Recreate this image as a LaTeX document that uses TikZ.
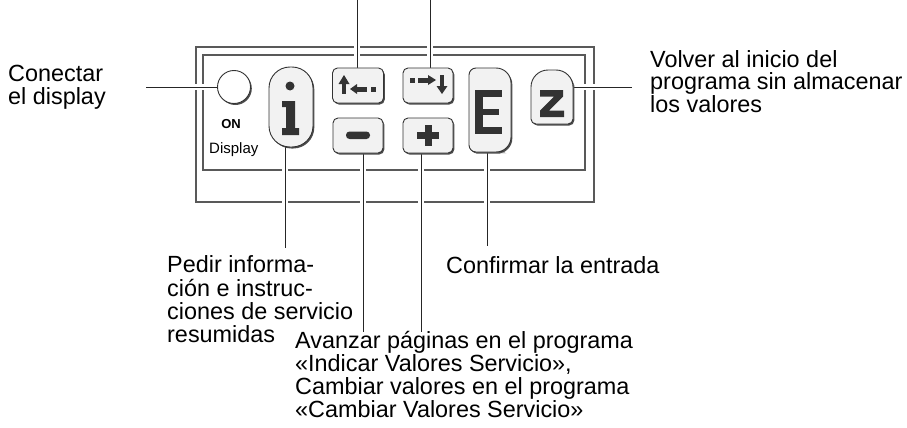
\documentclass[tikz,border=0pt]{standalone}
\usepackage{fontspec}
\setmainfont{Liberation Sans}
\usetikzlibrary{shadows,backgrounds}
\begin{document}
\begin{tikzpicture}[x=1pt,y=-1pt,
  lbl/.style={inner sep=0pt, anchor=base west, align=left, font=\fontsize{23.4}{23}\selectfont},
  frameline/.style={draw=black!65, line width=1.3pt},
  conn/.style={draw=black!85, line width=0.9pt, preaction={draw=white, line width=6pt}},
  keybody/.style={fill=black!5, draw=black!80, line width=0.9pt,
    drop shadow={shadow xshift=1.3pt, shadow yshift=-1.5pt, fill=black!70, opacity=1}},
  keynode/.style={keybody, rectangle, inner sep=0pt},
  glyph/.style={fill=black!80, draw=none}]
\useasboundingbox (0,0) rectangle (907,428);

% ---------- keys ----------
\node[keybody, circle, fill=white, minimum size=33pt, inner sep=0pt] (onbtn) at (234,87) {};
\node[inner sep=0pt, anchor=base, font=\fontsize{13}{13}\selectfont\bfseries] (ontext) at (231,128) {ON};
\node[inner sep=0pt, anchor=base west, font=\fontsize{15}{15}\selectfont] (disptext) at (209,153) {Display};

\node[keynode, rounded corners=21pt, minimum width=44pt, minimum height=80pt] (ikey) at (291,107) {};
\node[keynode, rounded corners=5pt, minimum width=51pt, minimum height=35pt] (kup) at (358,85.5) {};
\node[keynode, rounded corners=5pt, minimum width=50pt, minimum height=35pt] (kdown) at (428,85.5) {};
\node[keynode, rounded corners=5pt, minimum width=50pt, minimum height=35pt] (kminus) at (358,135.5) {};
\node[keynode, rounded corners=5pt, minimum width=50pt, minimum height=35pt] (kplus) at (428,135.5) {};

% E key
\path[keybody] (469,110) [rounded corners=7pt] -- (469,68) -- (490,68) [rounded corners=15pt]
  -- (511,68) -- (511,152) -- (490,152) [rounded corners=7pt] -- (469,152) -- cycle;
% Z key
\path[keybody] (531,100) [rounded corners=17pt] -- (531,70) -- (573,70) -- (573,100)
  [rounded corners=5pt] -- (573,124) -- (531,124) -- cycle;

\coordinate (Ebot) at (487,152);
\coordinate (Zeast) at (573,87);

% ---------- glyphs ----------
% i
\fill[glyph] (290,86) circle[radius=4.5];
\fill[glyph] (282,101) -- (295,101) -- (295,128) -- (299,128) -- (299,135) -- (282,135)
  -- (282,128) -- (286,128) -- (286,107) -- (282,107) -- cycle;
% up + left arrow
\fill[glyph] (342,83) rectangle (346,94);
\fill[glyph] (338.5,84) -- (349.5,84) -- (344,75) -- cycle;
\fill[glyph] (350,89) -- (357,84) -- (357,94) -- cycle;
\fill[glyph] (356,86.5) rectangle (367,91.5);
\fill[glyph] (371,86.5) rectangle (376,91.5);
% right + down arrow
\fill[glyph] (410,77.5) rectangle (415,82.5);
\fill[glyph] (418,77.5) rectangle (429,82.5);
\fill[glyph] (436,80) -- (428,75) -- (428,85) -- cycle;
\fill[glyph] (440,75) rectangle (444,87);
\fill[glyph] (436.5,86) -- (447.5,86) -- (442,94) -- cycle;
% minus
\fill[glyph, rounded corners=3.5pt] (346,131.5) rectangle (370,139);
% plus
\fill[glyph] (417,131.5) rectangle (439,139);
\fill[glyph] (424.5,125) rectangle (431.5,146);
% E
\fill[glyph] (475,90) rectangle (483,134);
\fill[glyph] (475,90) rectangle (502,97);
\fill[glyph] (475,109) rectangle (499,115);
\fill[glyph] (475,127) rectangle (502,134);
% Z
\fill[glyph] (540,90) -- (563,90) -- (563,96.5) -- (549,110.5) -- (564,110.5) -- (564,117)
  -- (540,117) -- (540,110.5) -- (554,96.5) -- (540,96.5) -- cycle;

% ---------- labels (anchor = baseline of last line) ----------
\node[lbl] (lconectar) at (8,104) {Conectar\\el display};
\node[lbl, font=\fontsize{23.4}{22.5}\selectfont] (lvolver) at (650,112) {Volver al inicio del\\programa sin almacenar\\los valores};
\node[lbl, font=\fontsize{23.4}{23.2}\selectfont] (lpedir) at (167,342.5) {Pedir informa-\\ción e instruc-\\ciones de servicio\\resumidas};
\node[lbl] (lconf) at (446,273) {Confirmar la entrada};
\node[lbl, font=\fontsize{23.4}{22.7}\selectfont] (lavanzar) at (295,417) {Avanzar páginas en el programa\\«Indicar Valores Servicio»,\\Cambiar valores en el programa\\«Cambiar Valores Servicio»};

% connector free ends
\coordinate (cL) at (146,87);
\coordinate (zR) at (632,87);
\coordinate (t1) at (357,0);
\coordinate (t2) at (430,0);
\coordinate (iend) at (285,248);
\coordinate (mend) at (363,332);
\coordinate (pend) at (421,332);
\coordinate (Eend) at (487,246);

\begin{scope}[on background layer]
  \draw[frameline] (196,47) rectangle (594,202);
  \draw[frameline] (203,55) rectangle (585,170);
  \draw[conn] (cL) -- (onbtn.west);
  \draw[conn] (Zeast) -- (zR);
  \draw[conn] (t1) -- (kup.north -| t1);
  \draw[conn] (t2) -- (kdown.north -| t2);
  \draw[conn] (ikey.south -| iend) -- (iend);
  \draw[conn] (kminus.south -| mend) -- (mend);
  \draw[conn] (kplus.south -| pend) -- (pend);
  \draw[conn] (Ebot) -- (Eend);
\end{scope}
\end{tikzpicture}
\end{document}
